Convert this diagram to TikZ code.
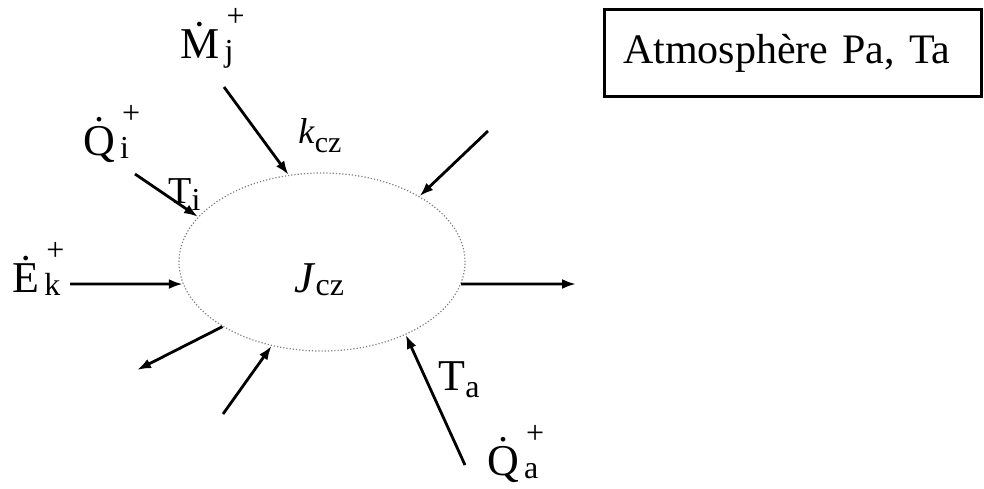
\documentclass[tikz,border=0pt]{standalone}
\usepackage{fontspec}
\setmainfont{Liberation Serif}
\usetikzlibrary{arrows.meta, shapes.geometric}

% index lowered by #1, flux with dot, + and index
\newcommand{\idx}[2]{\raisebox{-#1}{\fontsize{16pt}{16pt}\selectfont #2}}
\newcommand{\flux}[2]{\.{#1}\kern2.5pt\rlap{\kern1pt\raisebox{16pt}{\fontsize{16pt}{16pt}\selectfont +}}\idx{1.5pt}{#2}}

\begin{document}
\begin{tikzpicture}[
  x=0.5pt, y=-0.5pt,
  >={Latex[length=7pt,width=5pt]},
  flow/.style   = {->, line width=1.4pt},
  zone/.style   = {ellipse, draw=gray, densely dotted, line width=0.6pt,
                   minimum width=143pt, minimum height=89pt, inner sep=0pt},
  lbl/.style    = {font=\fontsize{22pt}{26pt}\selectfont, inner sep=0pt, anchor=base west},
  atmbox/.style = {draw, line width=1.3pt, anchor=north west, align=left,
                   inner xsep=9.5pt, inner ysep=0pt, text height=27pt, text depth=16.5pt,
                   text width=169.5pt, font=\fontsize{21pt}{25pt}\selectfont},
]
  \useasboundingbox (0,0) rectangle (984,488);

  % Control zone
  \node[zone]                (cz)   at (322,262) {};
  \node[lbl]                 (jcz)  at (294,292) {\textit{J}\idx{1.5pt}{cz}};
  \node[lbl, font=\fontsize{18pt}{22pt}\selectfont]
                             (kcz)  at (298,143) {\textit{k}\raisebox{-4.5pt}{\fontsize{15pt}{15pt}\selectfont cz}};

  % Atmosphere
  \node[atmbox]              (atm)  at (603,8)   {Atmosph\`ere Pa, Ta};

  % Flux labels
  \node[lbl]                 (mj)   at (180,58)  {\flux{M}{j}};
  \node[lbl]                 (qi)   at (83,155)  {\flux{Q}{i}};
  \node[lbl]                 (ek)   at (12,292)  {\flux{E}{k}};
  \node[lbl]                 (qa)   at (487,475) {\flux{Q}{a}};
  \node[lbl, font=\fontsize{19pt}{23pt}\selectfont]
                             (ti)   at (168,203) {T\idx{3.5pt}{i}};
  \node[lbl]                 (ta)   at (438,390) {T\idx{3.5pt}{a}};

  % Free ends
  \coordinate (mjin)  at (224,87);
  \coordinate (qiin)  at (135,174);
  \coordinate (urin)  at (488,131);
  \coordinate (ekin)  at (70,284);
  \coordinate (rout)  at (576,284);
  \coordinate (llout) at (137,370);
  \coordinate (llin)  at (223,414);
  \coordinate (qain)  at (465,465);

  % Flows in and out
  \draw[flow] (mjin)   -- (cz.111);
  \draw[flow] (qiin)   -- (cz.160);
  \draw[flow] (urin)   -- (cz.34);
  \draw[flow] (ekin)   -- (cz.189);
  \draw[flow] (cz.351) -- (rout);
  \draw[flow] (cz.213) -- (llout);
  \draw[flow] (llin)   -- (cz.239);
  \draw[flow] (qain)   -- (cz.319);
\end{tikzpicture}
\end{document}
